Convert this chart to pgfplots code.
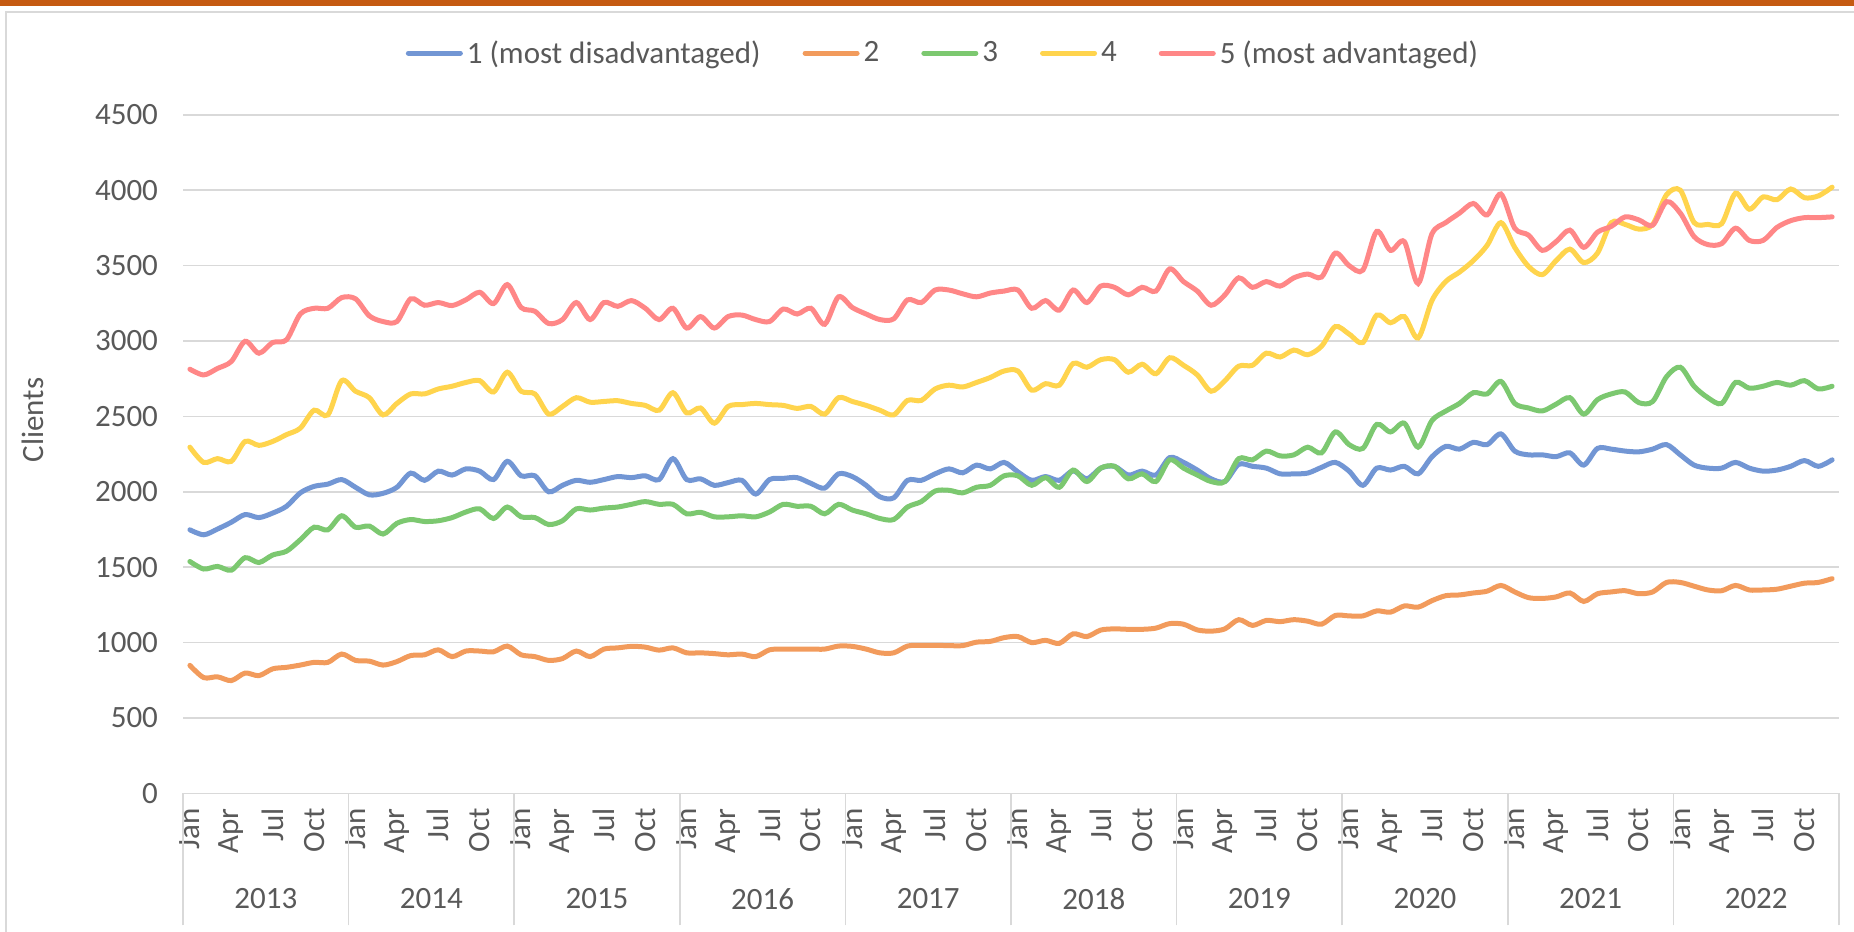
\documentclass[border=0pt]{standalone}
\usepackage{pgfplots}
\pgfplotsset{compat=1.18}
\usepackage{pgfplotstable}
\usepackage{fontspec}
\setmainfont{Carlito}
\definecolor{s1}{HTML}{7296D4}
\definecolor{s2}{HTML}{F29B5C}
\definecolor{s3}{HTML}{7CC870}
\definecolor{s4}{HTML}{FFD44D}
\definecolor{s5}{HTML}{FF8787}
\definecolor{gridc}{HTML}{D9D9D9}
\definecolor{txt}{HTML}{595959}
\definecolor{topbar}{HTML}{C55A11}
\newcommand\ff{\fontsize{15.5}{18}\selectfont}
\pgfplotstableread{
m q1 q2 q3 q4 q5
0.5 1748 849 1538 2296 2813
1.5 1715 768 1488 2195 2775
2.5 1753 773 1505 2220 2818
3.5 1798 748 1480 2202 2864
4.5 1849 798 1563 2334 2998
5.5 1829 781 1531 2308 2919
6.5 1859 826 1581 2334 2990
7.5 1904 836 1606 2379 3008
8.5 1993 851 1682 2422 3179
9.5 2036 869 1765 2541 3217
10.5 2051 869 1748 2510 3217
11.5 2081 924 1841 2737 3288
12.5 2030 882 1765 2667 3280
13.5 1980 877 1773 2624 3167
14.5 1990 851 1720 2510 3129
15.5 2030 874 1791 2586 3129
16.5 2124 914 1816 2649 3280
17.5 2076 919 1803 2649 3237
18.5 2137 952 1808 2682 3255
19.5 2111 907 1829 2700 3235
20.5 2152 944 1866 2725 3273
21.5 2137 944 1887 2737 3323
22.5 2081 939 1823 2662 3248
23.5 2202 977 1899 2793 3374
24.5 2106 919 1834 2667 3222
25.5 2106 907 1829 2649 3197
26.5 2000 882 1783 2515 3116
27.5 2043 894 1808 2566 3142
28.5 2076 944 1887 2624 3255
29.5 2063 907 1879 2594 3142
30.5 2081 957 1892 2599 3255
31.5 2101 965 1899 2604 3230
32.5 2094 975 1917 2586 3268
33.5 2106 970 1935 2573 3217
34.5 2081 950 1917 2541 3142
35.5 2220 965 1917 2657 3217
36.5 2081 932 1854 2523 3086
37.5 2086 932 1864 2556 3162
38.5 2043 927 1834 2455 3086
39.5 2061 919 1834 2566 3162
40.5 2076 924 1841 2578 3172
41.5 1985 907 1834 2586 3142
42.5 2081 952 1866 2578 3129
43.5 2089 957 1917 2573 3212
44.5 2094 957 1904 2553 3179
45.5 2056 957 1904 2566 3217
46.5 2025 957 1854 2515 3111
47.5 2119 977 1917 2624 3293
48.5 2101 975 1879 2599 3222
49.5 2043 957 1854 2573 3179
50.5 1967 932 1823 2541 3142
51.5 1960 932 1816 2510 3147
52.5 2076 977 1899 2606 3273
53.5 2076 982 1935 2606 3255
54.5 2119 982 2005 2682 3338
55.5 2152 980 2010 2707 3338
56.5 2126 980 1993 2695 3313
57.5 2177 1003 2030 2725 3293
58.5 2152 1008 2043 2758 3318
59.5 2195 1033 2106 2801 3331
60.5 2132 1040 2106 2801 3338
61.5 2076 1000 2043 2674 3217
62.5 2101 1015 2094 2717 3268
63.5 2076 995 2030 2707 3205
64.5 2139 1058 2144 2851 3338
65.5 2086 1040 2068 2826 3255
66.5 2157 1083 2157 2876 3364
67.5 2169 1091 2169 2876 3356
68.5 2111 1088 2086 2793 3306
69.5 2137 1088 2119 2846 3356
70.5 2111 1096 2068 2783 3331
71.5 2227 1126 2212 2889 3478
72.5 2195 1122 2157 2839 3394
73.5 2144 1084 2111 2775 3331
74.5 2086 1076 2068 2667 3237
75.5 2068 1091 2068 2737 3306
76.5 2182 1152 2220 2833 3419
77.5 2169 1114 2212 2839 3356
78.5 2157 1147 2270 2919 3394
79.5 2119 1139 2238 2894 3364
80.5 2119 1152 2245 2940 3419
81.5 2124 1142 2296 2909 3444
82.5 2162 1122 2258 2965 3424
83.5 2195 1180 2397 3096 3583
84.5 2137 1177 2313 3046 3500
85.5 2043 1177 2288 2990 3470
86.5 2157 1210 2447 3172 3727
87.5 2144 1202 2397 3121 3601
88.5 2169 1243 2455 3162 3659
89.5 2119 1235 2296 3020 3381
90.5 2232 1278 2472 3268 3710
91.5 2301 1311 2535 3394 3785
92.5 2283 1316 2586 3457 3848
93.5 2328 1329 2657 3533 3912
94.5 2313 1341 2649 3634 3836
95.5 2384 1379 2732 3785 3975
96.5 2270 1336 2586 3621 3748
97.5 2245 1298 2556 3495 3702
98.5 2245 1293 2536 3440 3601
99.5 2233 1303 2581 3533 3659
100.5 2258 1329 2624 3609 3735
101.5 2177 1273 2515 3520 3621
102.5 2288 1324 2611 3583 3722
103.5 2283 1336 2649 3785 3760
104.5 2270 1344 2662 3773 3823
105.5 2265 1324 2591 3742 3803
106.5 2283 1336 2599 3773 3768
107.5 2313 1399 2763 3970 3924
108.5 2245 1399 2826 4000 3848
109.5 2177 1374 2700 3785 3692
110.5 2157 1349 2624 3773 3639
111.5 2157 1344 2586 3778 3646
112.5 2195 1379 2725 3980 3748
113.5 2157 1349 2687 3874 3667
114.5 2137 1349 2700 3955 3667
115.5 2144 1354 2725 3937 3753
116.5 2169 1374 2707 4008 3798
117.5 2207 1394 2737 3950 3818
118.5 2169 1399 2682 3962 3818
119.5 2212 1424 2700 4020 3823
}\data
\begin{document}
\begin{tikzpicture}[x=1pt,y=1pt]
\path[use as bounding box] (0,0) rectangle (927,466);
\fill[topbar] (0,463) rectangle (927,466);
\draw[gridc, line width=1.2pt] (3,-5) -- (3,460) -- (935,460);
\node[rotate=90, text=txt, font=\ff] at (16.5,256) {Clients};
\begin{axis}[
  at={(91.5pt,69.3pt)}, anchor=south west, scale only axis,
  width=828pt, height=339.3pt,
  xmin=0, xmax=120, ymin=0, ymax=4500,
  ytick={0,500,...,4500},
  ymajorgrids, grid style={gridc, line width=0.8pt},
  axis x line*=bottom, axis y line*=left,
  x axis line style={gridc, line width=0.8pt, -},
  y axis line style={draw=none},
  major tick length=0pt,
  xtick={0.5,3.5,...,117.5},
  xticklabels={Jan,Apr,Jul,Oct,Jan,Apr,Jul,Oct,Jan,Apr,Jul,Oct,Jan,Apr,Jul,Oct,Jan,Apr,Jul,Oct,Jan,Apr,Jul,Oct,Jan,Apr,Jul,Oct,Jan,Apr,Jul,Oct,Jan,Apr,Jul,Oct,Jan,Apr,Jul,Oct},
  xticklabel style={yshift=-4pt, rotate=90, anchor=east, font=\ff, text=txt},
  yticklabel style={xshift=-9pt, font=\ff, text=txt},
  /pgf/number format/assume math mode=true,
  /pgf/number format/1000 sep={},
  extra x ticks={0,12,...,120},
  extra x tick labels={},
  extra x tick style={major tick length=66pt, tick align=outside, tick style={gridc, line width=0.8pt}},
  clip=false,
  legend columns=5,
  legend style={at={(0.4595,1.0908)}, anchor=center, draw=none, fill=none, font=\ff, text=txt,
    /tikz/every even column/.append style={column sep=19pt}},
  legend cell align=left,
  legend image code/.code={\draw[#1] (0pt,0pt) -- (26pt,0pt);},
  every axis plot/.append style={line width=2.5pt, line cap=round, smooth, tension=0.5},
]
\addplot[s1] table[x=m, y=q1] {\data};
\addplot[s2] table[x=m, y=q2] {\data};
\addplot[s3] table[x=m, y=q3] {\data};
\addplot[s4] table[x=m, y=q4] {\data};
\addplot[s5] table[x=m, y=q5] {\data};
\legend{1 (most disadvantaged),2,3,4,5 (most advantaged)}
\node[text=txt, font=\ff] at (axis cs:6,0) [yshift=-52.8pt] {2013};
\node[text=txt, font=\ff] at (axis cs:18,0) [yshift=-52.8pt] {2014};
\node[text=txt, font=\ff] at (axis cs:30,0) [yshift=-52.8pt] {2015};
\node[text=txt, font=\ff] at (axis cs:42,0) [yshift=-52.8pt] {2016};
\node[text=txt, font=\ff] at (axis cs:54,0) [yshift=-52.8pt] {2017};
\node[text=txt, font=\ff] at (axis cs:66,0) [yshift=-52.8pt] {2018};
\node[text=txt, font=\ff] at (axis cs:78,0) [yshift=-52.8pt] {2019};
\node[text=txt, font=\ff] at (axis cs:90,0) [yshift=-52.8pt] {2020};
\node[text=txt, font=\ff] at (axis cs:102,0) [yshift=-52.8pt] {2021};
\node[text=txt, font=\ff] at (axis cs:114,0) [yshift=-52.8pt] {2022};
\end{axis}
\end{tikzpicture}
\end{document}
